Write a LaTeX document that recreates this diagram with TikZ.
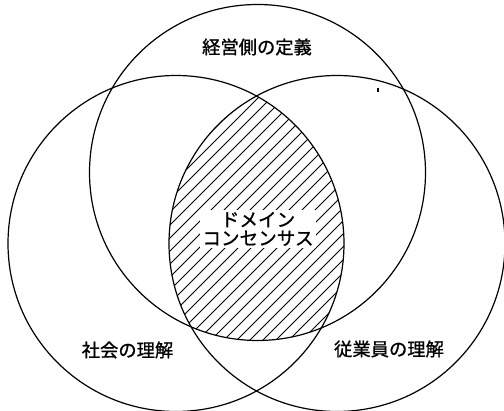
\documentclass[tikz,border=0pt]{standalone}
\usepackage{fontspec}
\newfontfamily\jpfont[FakeBold=0.9]{Noto Sans CJK JP}
\begin{document}
\begin{tikzpicture}[x=1pt,y=-1pt,
  ring/.style={draw=black,line width=1.2pt},
  hatchline/.style={draw=black,line width=1.05pt},
  lbl/.style={font=\jpfont\fontsize{18.3}{19}\selectfont,inner sep=0pt},
  centerlbl/.style={font=\jpfont\fontsize{18.6}{18.5}\selectfont,fill=white,inner sep=2.5pt,align=center}]
\useasboundingbox (0,0) rectangle (504,411);
\coordinate (T) at (257.5,172.5);
\coordinate (L) at (176,243.5);
\coordinate (R) at (337,243.5);
% hatched triple intersection
\begin{scope}
  \clip (L) circle (168);
  \clip (R) circle (168);
  \clip (T) circle (168);
  \foreach \c in {200,213,...,720} {
    \draw[hatchline] (\c-400,400) -- (\c,0);
  }
\end{scope}
\draw[ring] (T) circle (168);
\draw[ring] (L) circle (168);
\draw[ring] (R) circle (168);
\node[centerlbl] (dc) at (258,229) {ドメイン\\コンセンサス};
\node[lbl] (top) at (257,47) {経営側の定義};
\node[lbl] (lft) at (127.5,350) {社会の理解};
\node[lbl] (rgt) at (389,349) {従業員の理解};
\coordinate (tk1) at (378,88);
\coordinate (tk2) at (378,92.5);
\draw[line width=1.4pt] (tk1) -- (tk2);
\end{tikzpicture}
\end{document}
